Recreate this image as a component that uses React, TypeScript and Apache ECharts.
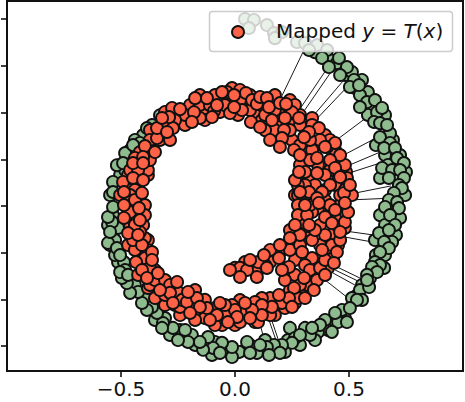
import React, { useEffect, useRef } from "react";
import * as echarts from "echarts";

const yTicks = [-0.6, -0.4, -0.2, 0, 0.2, 0.4, 0.6, 0.8];

const greenX = [-.513,-.487,.531,.482,.408,.364,.285,.232,.066,-.088,-.189,-.307,-.373,.241,.526,.601,.689,.715,.618,.557,
.351,.417,.482,.513,.583,.601,.583,.658,.693,.658,.724,.618,.671,.75,.702,.636,.746,.689,.636,.724,.658,.614,.706,.658,.614,.592,.548,.513,.469,.395,.452,.351,.307,.263,.219,.132,.044,-.044,-.101,-.175,-.241,-.285,-.351,-.395,-.439,-.482,-.526,-.548,-.513,-.535,-.557,-.504,-.504,-.548,-.46,-.482,-.403,-.364,-.439,
.044,.083,.061,.14,.171,.206,.175,.272,.307,.36,.404,.325,.382,.447,.412,.456,.491,.461,.557,.522,.504,.548,.544,.579,.614,.548,.623,.645,.61,.636,.68,.667,.636,.68,.654,.702,.711,.741,.645,.689,.675,.724,.741,.719,.732,.697,.675,.711,.658,.719,.68,.702,.632,.675,.689,.654,.675,.636,.614,.654,.636,.601,.623,.579,.588,.579,.557,.535,.504,.439,.491,.425,.373,.329,.338,.285,.25,.206,.171,.197,.14,.149,.096,.11,.053,.018,.066,-.013,-.013,-.057,-.096,-.14,-.118,-.066,-.154,-.206,-.219,-.25,-.272,-.316,-.32,-.342,-.364,-.386,-.408,-.425,-.46,-.474,-.496,-.504,-.469,-.526,-.557,-.518,-.504,-.539,-.557,-.548,-.535,-.535,-.535,-.518,-.482,-.417,-.386,-.329,-.447,-.491];
const greenY = [-.24,-.24,-.385,-.48,-.531,-.54,-.595,-.574,-.595,-.582,-.552,-.48,-.403,-.522,.505,.39,.218,.06,-.21,-.338,
.659,.625,.561,.574,.488,.42,.39,.39,.283,.218,.218,.261,.176,.146,.12,.12,.047,.004,-.039,-.051,-.081,-.146,-.124,-.21,-.274,-.308,-.36,-.394,-.445,-.488,-.497,-.574,-.522,-.565,-.625,-.574,-.617,-.608,-.638,-.595,-.531,-.552,-.488,-.394,-.338,-.274,-.21,-.167,-.094,-.039,-.081,.026,.133,.047,.24,.154,.304,.347,.283,
.801,.797,.762,.775,.741,.745,.719,.702,.698,.689,.668,.668,.634,.612,.595,.634,.595,.561,.54,.54,.51,.475,.518,.445,.454,.424,.402,.42,.36,.355,.312,.347,.295,.27,.248,.248,.205,.184,.163,.154,.12,.154,.12,.09,.077,.056,.026,.017,-.004,-.009,-.039,-.081,-.116,-.103,-.154,-.154,-.18,-.197,-.24,-.265,-.253,-.261,-.283,-.295,-.347,-.317,-.402,-.402,-.437,-.458,-.497,-.539,-.509,-.552,-.522,-.552,-.586,-.595,-.595,-.629,-.604,-.638,-.629,-.595,-.582,-.625,-.629,-.647,-.604,-.586,-.608,-.616,-.561,-.629,-.582,-.582,-.531,-.574,-.522,-.501,-.522,-.458,-.432,-.445,-.415,-.368,-.372,-.33,-.308,-.283,-.295,-.146,-.158,-.18,-.21,-.068,-.047,-.111,-.004,.103,.06,.175,.227,.27,.334,.389,.261,.184];

const redX = [.285,.232,.154,.101,.013,-.031,-.101,-.132,-.197,-.241,-.285,-.329,-.373,-.417,-.46,-.425,-.447,-.447,-.403,-.382,-.417,-.351,-.307,-.263,-.197,-.154,-.088,-.031,.022,.132,.197,.241,.307,.329,.395,.452,.425,.482,.452,.417,.364,.32,.285,.307,.364,.439,.395,.197,.154,
-.469,-.425,-.478,-.382,-.373,-.382,-.439,-.46,-.373,-.329,-.307,-.285,-.25,-.219,-.276,-.197,-.154,-.132,-.154,-.088,-.066,-.013,.022,.066,.088,.044,.118,.175,.25,.25,.175,.132,.118,.197,.241,.263,.307,.338,.382,.338,.417,.452,.465,.469,.487,.439,.395,.351,.307,.276,.263,.482,.461,.395,.338,.294,.373,.439,.417,.482,.373,.32,.452,.417,.43,.338,.351,.408,.263,.307,.263,.219,.32,.263,.219,.175,.154,.118,.088,.022,-.013,.044,.088,0,-.057,-.088,-.132,-.175,-.241,-.219,-.175,-.263,-.307,-.351,-.382,-.425,-.373,-.469,-.439,-.395,-.382,-.46,-.469,-.417,-.395,-.395,-.504,0,.044,.101,.154,.197,.241,.285,.132,.241,.276,
-.46,-.425,-.469,-.439,-.46,-.439,-.447,-.408,-.395,-.373,-.351,-.307,-.307,-.25,-.241,-.175,-.132,-.088,-.044,0,.022,.101,.154,.206,.276,.285,.329,.373,.425,.461,.482,.496,.461,.513,.482,.461,.417,.373,.338,.285,.25,.175,.132,.066,.022,-.044,-.11,-.154,-.219,-.263,-.307,-.373,-.417,-.439,-.373,.276,.276,.329,.285,.263,.154,.101,.022,.285,.263,.329,.395,.417,.395,.338,.241,.285,
-.491,-.447,-.487,-.408,-.403,-.447,-.395,-.351,-.403,-.403,-.342,-.342,-.272,-.289,-.32,-.241,-.298,-.18,-.189,-.175,-.123,-.092,-.079,-.101,-.035,-.022,-.057,-.004,.048,.075,.096,.11,.14,.149,.031,-.004,.07,.11,.162,.197,.224,.219,.215,.206,.154,.197,.259,.281,.285,.329,.368,.325,.303,.36,.404,.439,.439,.307,.36,.491,.478,.417,.382,.325,.285,.36,.504,.461,.281,.395,.316,.395,.439,.351,.425,.461,.325,.307,.368,.482,.447,.395,.382,.434,.294,.241,.197,.127,.237,.193,.303,.36,.395,.346,.259,.237,.193,.307,.25,.162,.118,.118,.075,.044,.009,.066,.14,.096,.053,.022,.066,.206,-.487,-.421,-.487,-.417,-.469,-.425,-.364,-.434,-.364,-.408,-.338,-.386,-.285,-.285,-.329,-.254,-.232,-.211,-.167,-.206,-.123,-.079,-.11,-.044,-.031,-.066,-.154,-.197,-.272,-.022];
const redY = [.39,.403,.39,.411,.39,.454,.454,.403,.39,.36,.347,.283,.218,.176,.111,.034,-.039,-.094,-.081,-.146,-.223,-.274,-.338,-.424,-.403,-.467,-.467,-.445,-.467,-.445,-.403,-.36,-.368,-.308,-.188,-.124,-.017,-.039,.111,.154,.176,.12,.026,-.103,-.009,.24,.304,.347,.347,
.133,.09,.077,.133,.248,.154,.069,.047,.325,.304,.403,.283,.377,.347,.42,.433,.433,.368,.475,.475,.403,.505,.497,.475,.39,.433,.433,.475,.347,.283,.325,.325,.368,.39,.454,.433,.347,.377,.261,.24,.283,.197,.176,.133,.146,.09,.069,.09,.09,.09,.047,.069,.004,.026,-.026,-.069,-.081,-.051,-.124,-.094,-.167,-.137,-.167,-.21,-.223,-.223,-.283,-.265,-.231,-.253,-.295,-.317,-.338,-.415,-.437,-.467,-.394,-.394,-.411,-.403,-.424,-.454,-.497,-.51,-.51,-.51,-.48,-.488,-.467,-.381,-.36,-.381,-.424,-.394,-.351,-.295,-.338,-.167,-.188,-.137,-.188,-.081,-.017,-.111,.004,-.039,.047,-.265,-.24,-.274,-.24,-.197,-.188,-.167,-.253,-.103,.047,
.154,.154,.026,.026,-.026,-.081,-.146,-.167,-.223,-.265,-.317,-.317,-.381,-.368,-.432,-.424,-.402,-.437,-.467,-.445,-.497,-.497,-.467,-.415,-.394,-.338,-.274,-.265,-.167,-.146,-.069,-.026,.047,.047,.176,.218,.197,.283,.347,.347,.402,.411,.39,.411,.454,.432,.432,.377,.39,.368,.347,.283,.231,.206,.197,.004,-.039,.004,-.124,-.081,-.188,-.24,-.265,.176,.111,.197,.133,.004,-.124,-.146,.325,.261,
.103,.12,.06,.056,.111,.184,.257,.231,.21,.184,.291,.334,.334,.381,.377,.415,.317,.402,.36,.462,.462,.407,.432,.381,.488,.398,.488,.475,.484,.454,.437,.467,.462,.424,.411,.424,.36,.338,.368,.441,.437,.377,.325,.291,.283,.253,.24,.377,.218,.283,.334,.317,.295,.206,.253,.27,.163,.146,.141,.12,.056,.09,.06,.06,.06,.034,.09,.124,.146,.253,-.039,-.047,-.017,-.103,-.073,-.111,-.081,.004,.013,.013,-.197,-.231,-.188,-.244,-.197,-.137,-.167,-.21,-.261,-.223,-.308,-.317,-.295,-.36,-.351,-.394,-.381,-.394,-.432,-.432,-.424,-.467,-.445,-.415,-.475,-.48,-.265,-.304,-.274,-.304,-.231,-.274,.004,-.009,-.051,-.06,-.116,-.124,-.197,-.24,-.231,-.274,-.287,-.308,-.338,-.372,-.36,-.325,-.402,-.411,-.394,-.368,-.437,-.467,-.488,-.424,-.497,-.415,-.432,-.458,-.415,-.274];

const linkFromX = [.197,.276,.294,.32,.329,.439,.461,.482,.487,.504,.504,.482,.482,.439,.439,.43,.395,.105,.149,.158];
const linkFromY = [.454,.403,.394,.36,.343,.278,.21,.167,.137,.051,.026,-.107,-.133,-.257,-.274,-.287,-.317,-.488,-.488,-.48];
const linkToX = [.307,.399,.421,.478,.5,.592,.618,.649,.649,.684,.693,.636,.654,.566,.566,.566,.518,.132,.184,.193];
const linkToY = [.677,.582,.574,.54,.518,.39,.291,.236,.188,.086,.034,-.128,-.163,-.317,-.334,-.36,-.411,-.587,-.587,-.582];

const GREEN = "#8fbc8f";
const RED = "#ff6347";
const FONT = "'DejaVu Sans'";
const INK = "#111";

export default function App() {
  const ref = useRef<HTMLDivElement>(null);
  useEffect(() => {
    const chart = echarts.init(ref.current!, null, { renderer: "svg" });
    chart.setOption({
      animation: false,
      backgroundColor: "#fff",
      grid: { left: 7, right: 2, top: 1, bottom: 31, show: true, borderColor: INK, borderWidth: 2, backgroundColor: "transparent" },
      xAxis: {
        type: "value", min: -1, max: 1, interval: 0.5,
        splitLine: { show: false },
        axisLine: { onZero: false, lineStyle: { color: INK, width: 2 } },
        axisTick: { show: true, length: 6, lineStyle: { color: INK, width: 1.6 } },
        axisLabel: {
          show: true, showMinLabel: false, showMaxLabel: false, color: "#111", fontFamily: FONT, fontSize: 20, margin: 8,
          formatter: (v: number) => v.toFixed(1).replace("-", "\u2212"),
        },
      },
      yAxis: {
        type: "value", min: -0.7066, max: 0.878,
        splitLine: { show: false },
        axisLine: { onZero: false, lineStyle: { color: INK, width: 2 } },
        axisTick: { show: true, length: 6, lineStyle: { color: INK, width: 1.6 }, customValues: yTicks },
        axisLabel: { show: false },
      },
      series: [
        {
          type: "lines", coordinateSystem: "cartesian2d", z: 1, silent: true,
          lineStyle: { color: "#000", width: 0.9, opacity: 1 },
          data: linkFromX.map((x, i) => ({ coords: [[x, linkFromY[i]], [linkToX[i], linkToY[i]]] })),
        },
        {
          type: "scatter", z: 2, symbolSize: 12, name: "x", silent: true,
          itemStyle: { color: GREEN, borderColor: "#111", borderWidth: 1.9, opacity: 1 },
          data: greenX.map((x, i) => [x, greenY[i]]),
        },
        {
          type: "scatter", z: 3, symbolSize: 12, name: "Mapped", silent: true,
          itemStyle: { color: RED, borderColor: "#111", borderWidth: 1.9, opacity: 1 },
          data: redX.map((x, i) => [x, redY[i]]),
        },
      ],
      graphic: [
        { type: "rect", z: 100, shape: { x: 209.5, y: 11.5, width: 243, height: 40, r: 3 }, style: { fill: "rgba(255,255,255,0.8)", stroke: "#cccccc", lineWidth: 1.5 } },
        { type: "circle", z: 101, shape: { cx: 238, cy: 32, r: 6 }, style: { fill: RED, stroke: "#111", lineWidth: 1.9 } },
        {
          type: "text", z: 101, x: 276, y: 31,
          style: {
            text: "Mapped {i|y} = {i|T}({i|x})",
            fill: "#111", fontFamily: FONT, fontSize: 20, verticalAlign: "middle",
            rich: { i: { fontStyle: "italic", fontFamily: FONT, fontSize: 20, fill: "#111" } },
          },
        },
      ],
    });
    return () => chart.dispose();
  }, []);
  return <div ref={ref} style={{ position: "fixed", left: 0, top: 0, width: 465, height: 402 }} />;
}
